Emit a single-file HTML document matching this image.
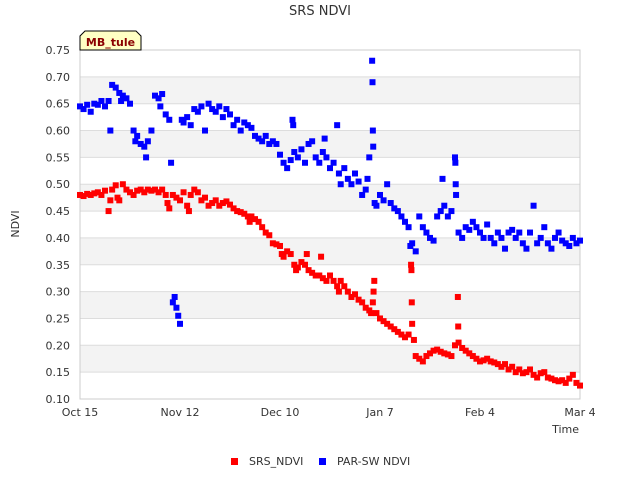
<!DOCTYPE html>
<html><head><meta charset="utf-8"><style>
body{margin:0;background:#fff;font-family:"Liberation Sans","DejaVu Sans",sans-serif}
svg text{font-family:"DejaVu Sans","Liberation Sans",sans-serif}
</style></head><body>
<svg id="chart" width="640" height="480" xmlns="http://www.w3.org/2000/svg">
<rect width="640" height="480" fill="#fff"/>
<text x="320" y="15" text-anchor="middle" font-size="13" fill="#333">SRS NDVI</text>
<g id="bands"></g>
<g id="grid"></g>
<rect x="80" y="50" width="500" height="349" fill="none" stroke="#ccc"/>
<g id="yticks"></g>
<g id="xticks"></g>
<g id="red"></g>
<g id="blue"></g>
<text transform="translate(19,224) rotate(-90)" text-anchor="middle" font-size="11" fill="#333">NDVI</text>
<text x="579" y="433" text-anchor="end" font-size="11" fill="#333">Time</text>
<g>
<path d="M80,50 L80,36 L85,31 L136,31 L141,36 L141,50 Z" fill="#ffffc4" stroke="#000" stroke-width="1"/>
<text x="110.5" y="46" text-anchor="middle" font-size="11" font-weight="bold" fill="#8b0000">MB_tule</text>
</g>
<g>
<rect x="231" y="458" width="7" height="7" fill="#f00"/>
<text x="249" y="465" font-size="11" fill="#333">SRS_NDVI</text>
<rect x="319" y="458" width="7" height="7" fill="#00f"/>
<text x="337" y="465" font-size="11" fill="#333">PAR-SW NDVI</text>
</g>
</svg>
<script>
const yTicks=[0.10,0.15,0.20,0.25,0.30,0.35,0.40,0.45,0.50,0.55,0.60,0.65,0.70,0.75];
const xTickDays=[0,28,56,84,112,140];
const xTickLabels=["Oct 15","Nov 12","Dec 10","Jan 7","Feb 4","Mar 4"];
const srsDays=[0,1,2,3,4,5,6,7,8,8.5,9,10,10.5,11,12,13,14,15,16,17,18,19,20,21,22,23,24,24.5,25,26,27,28,29,30,30.5,31,32,33,34,35,36,37,38,39,40,41,42,43,44,45,46,47,47.5,48,49,50,51,52,53,54,55,56,56.5,57,58,59,60,60.5,61,62,63,63.5,64,65,66,67,67.5,68,69,70,71,72,72.5,73,74,75,76,77,78,79,80,81,81.5,82,82.2,82.4,83,84,85,86,87,88,89,90,91,92,92.7,92.8,92.9,93,93.5,94,95,96,97,98,99,100,101,102,103,104,105,105.8,105.9,106,107,108,109,110,111,112,113,114,115,116,117,118,119,120,121,122,123,124,125,126,127,128,129,130,131,132,133,134,135,136,137,138,139,140];
const srsValues=[.48,.478,.482,.48,.483,.485,.48,.488,.45,.47,.49,.498,.475,.47,.5,.49,.485,.48,.488,.49,.485,.49,.488,.49,.485,.49,.48,.465,.455,.48,.475,.47,.485,.46,.45,.48,.49,.485,.47,.475,.46,.465,.47,.46,.465,.468,.462,.455,.45,.448,.445,.44,.43,.44,.435,.43,.42,.41,.405,.39,.388,.385,.37,.365,.375,.37,.35,.34,.345,.355,.35,.37,.34,.335,.33,.33,.365,.325,.32,.33,.32,.31,.30,.32,.31,.30,.29,.295,.285,.28,.27,.265,.26,.28,.30,.32,.26,.25,.245,.24,.235,.23,.225,.22,.215,.22,.35,.34,.28,.24,.21,.18,.175,.17,.18,.185,.19,.192,.188,.185,.183,.18,.20,.29,.235,.205,.195,.19,.185,.18,.175,.17,.172,.175,.17,.168,.165,.16,.165,.155,.16,.15,.155,.148,.15,.155,.145,.14,.148,.15,.14,.138,.135,.133,.135,.13,.138,.145,.13,.125];
const parDays=[0,1,2,3,4,5,6,7,8,8.5,9,10,11,11.5,12,13,14,15,15.5,16,17,18,18.5,19,20,21,22,22.5,23,24,25,25.5,26,26.5,27,27.5,28,28.5,29,30,31,32,33,34,35,36,37,38,39,40,41,42,43,44,45,46,47,48,49,50,51,52,53,54,55,56,57,58,59,59.5,59.7,60,61,62,63,64,65,66,67,68,68.5,69,70,71,72,72.5,73,74,75,76,77,78,79,80,80.5,81,81.8,81.9,82,82.1,82.5,83,84,85,86,87,88,89,90,91,92,92.5,93,94,95,96,97,98,99,100,101,101.5,102,103,104,105,105.1,105.2,105.3,106,107,108,109,110,111,112,113,114,115,116,117,118,119,120,121,122,123,124,125,126,127,128,129,130,131,132,133,134,135,136,137,138,139,140];
const parValues=[.645,.64,.648,.635,.65,.648,.655,.645,.655,.60,.685,.68,.67,.655,.665,.66,.65,.60,.58,.59,.575,.57,.55,.58,.60,.665,.66,.645,.668,.63,.62,.54,.28,.29,.27,.255,.24,.62,.615,.625,.61,.64,.635,.645,.60,.65,.64,.635,.645,.625,.64,.63,.61,.62,.60,.615,.61,.605,.59,.585,.58,.59,.575,.58,.575,.555,.54,.53,.545,.62,.61,.56,.55,.565,.54,.575,.58,.55,.54,.56,.585,.55,.53,.54,.61,.52,.50,.53,.51,.50,.52,.505,.48,.49,.51,.55,.73,.69,.60,.57,.465,.46,.48,.47,.50,.465,.455,.45,.44,.43,.42,.385,.39,.375,.44,.42,.41,.40,.395,.44,.45,.51,.46,.44,.45,.55,.54,.50,.48,.41,.40,.42,.415,.43,.42,.41,.40,.425,.40,.39,.41,.40,.38,.41,.415,.40,.41,.39,.38,.41,.46,.39,.40,.42,.39,.38,.40,.41,.395,.39,.385,.40,.39,.395];
const X0=80,X1=580,Y0=399,Y1=50;
const xs=d=>X0+(d/140)*(X1-X0);
const ys=v=>Y0-(v-0.10)/(0.65)*(Y0-Y1);
const NS="http://www.w3.org/2000/svg";
function mk(t,a,parent){const e=document.createElementNS(NS,t);for(const k in a)e.setAttribute(k,a[k]);parent.appendChild(e);return e;}
const bands=document.getElementById('bands'),grid=document.getElementById('grid'),yt=document.getElementById('yticks'),xt=document.getElementById('xticks');
for(let i=0;i<yTicks.length-1;i++){
  if(i%2===1){const b=mk('rect',{x:X0,y:ys(yTicks[i+1]),width:X1-X0,height:ys(yTicks[i])-ys(yTicks[i+1]),fill:'#f3f3f3'},bands);
  
  }
}
yTicks.forEach(v=>{
  const l=mk('line',{x1:X0,x2:X1,y1:ys(v),y2:ys(v),stroke:'#ddd'},grid);
  
  
  const t=mk('text',{x:70,y:ys(v)+4,'text-anchor':'end','font-size':11,fill:'#333'},yt);
  t.textContent=v.toFixed(2);
  
  
});
xTickDays.forEach((d,i)=>{
  const t=mk('text',{x:xs(d),y:416,'text-anchor':'middle','font-size':11,fill:'#333'},xt);
  t.textContent=xTickLabels[i];
  
  
});
function plot(days,vals,color,gid,name){
  const g=document.getElementById(gid);
  days.forEach((d,i)=>{
    const r=mk('rect',{x:xs(d)-3,y:ys(vals[i])-3,width:6,height:6,fill:color},g);
    
    
  });
}
plot(srsDays,srsValues,'#f00','red','srs-point');
plot(parDays,parValues,'#00f','blue','par-point');
</script>
</body></html>
